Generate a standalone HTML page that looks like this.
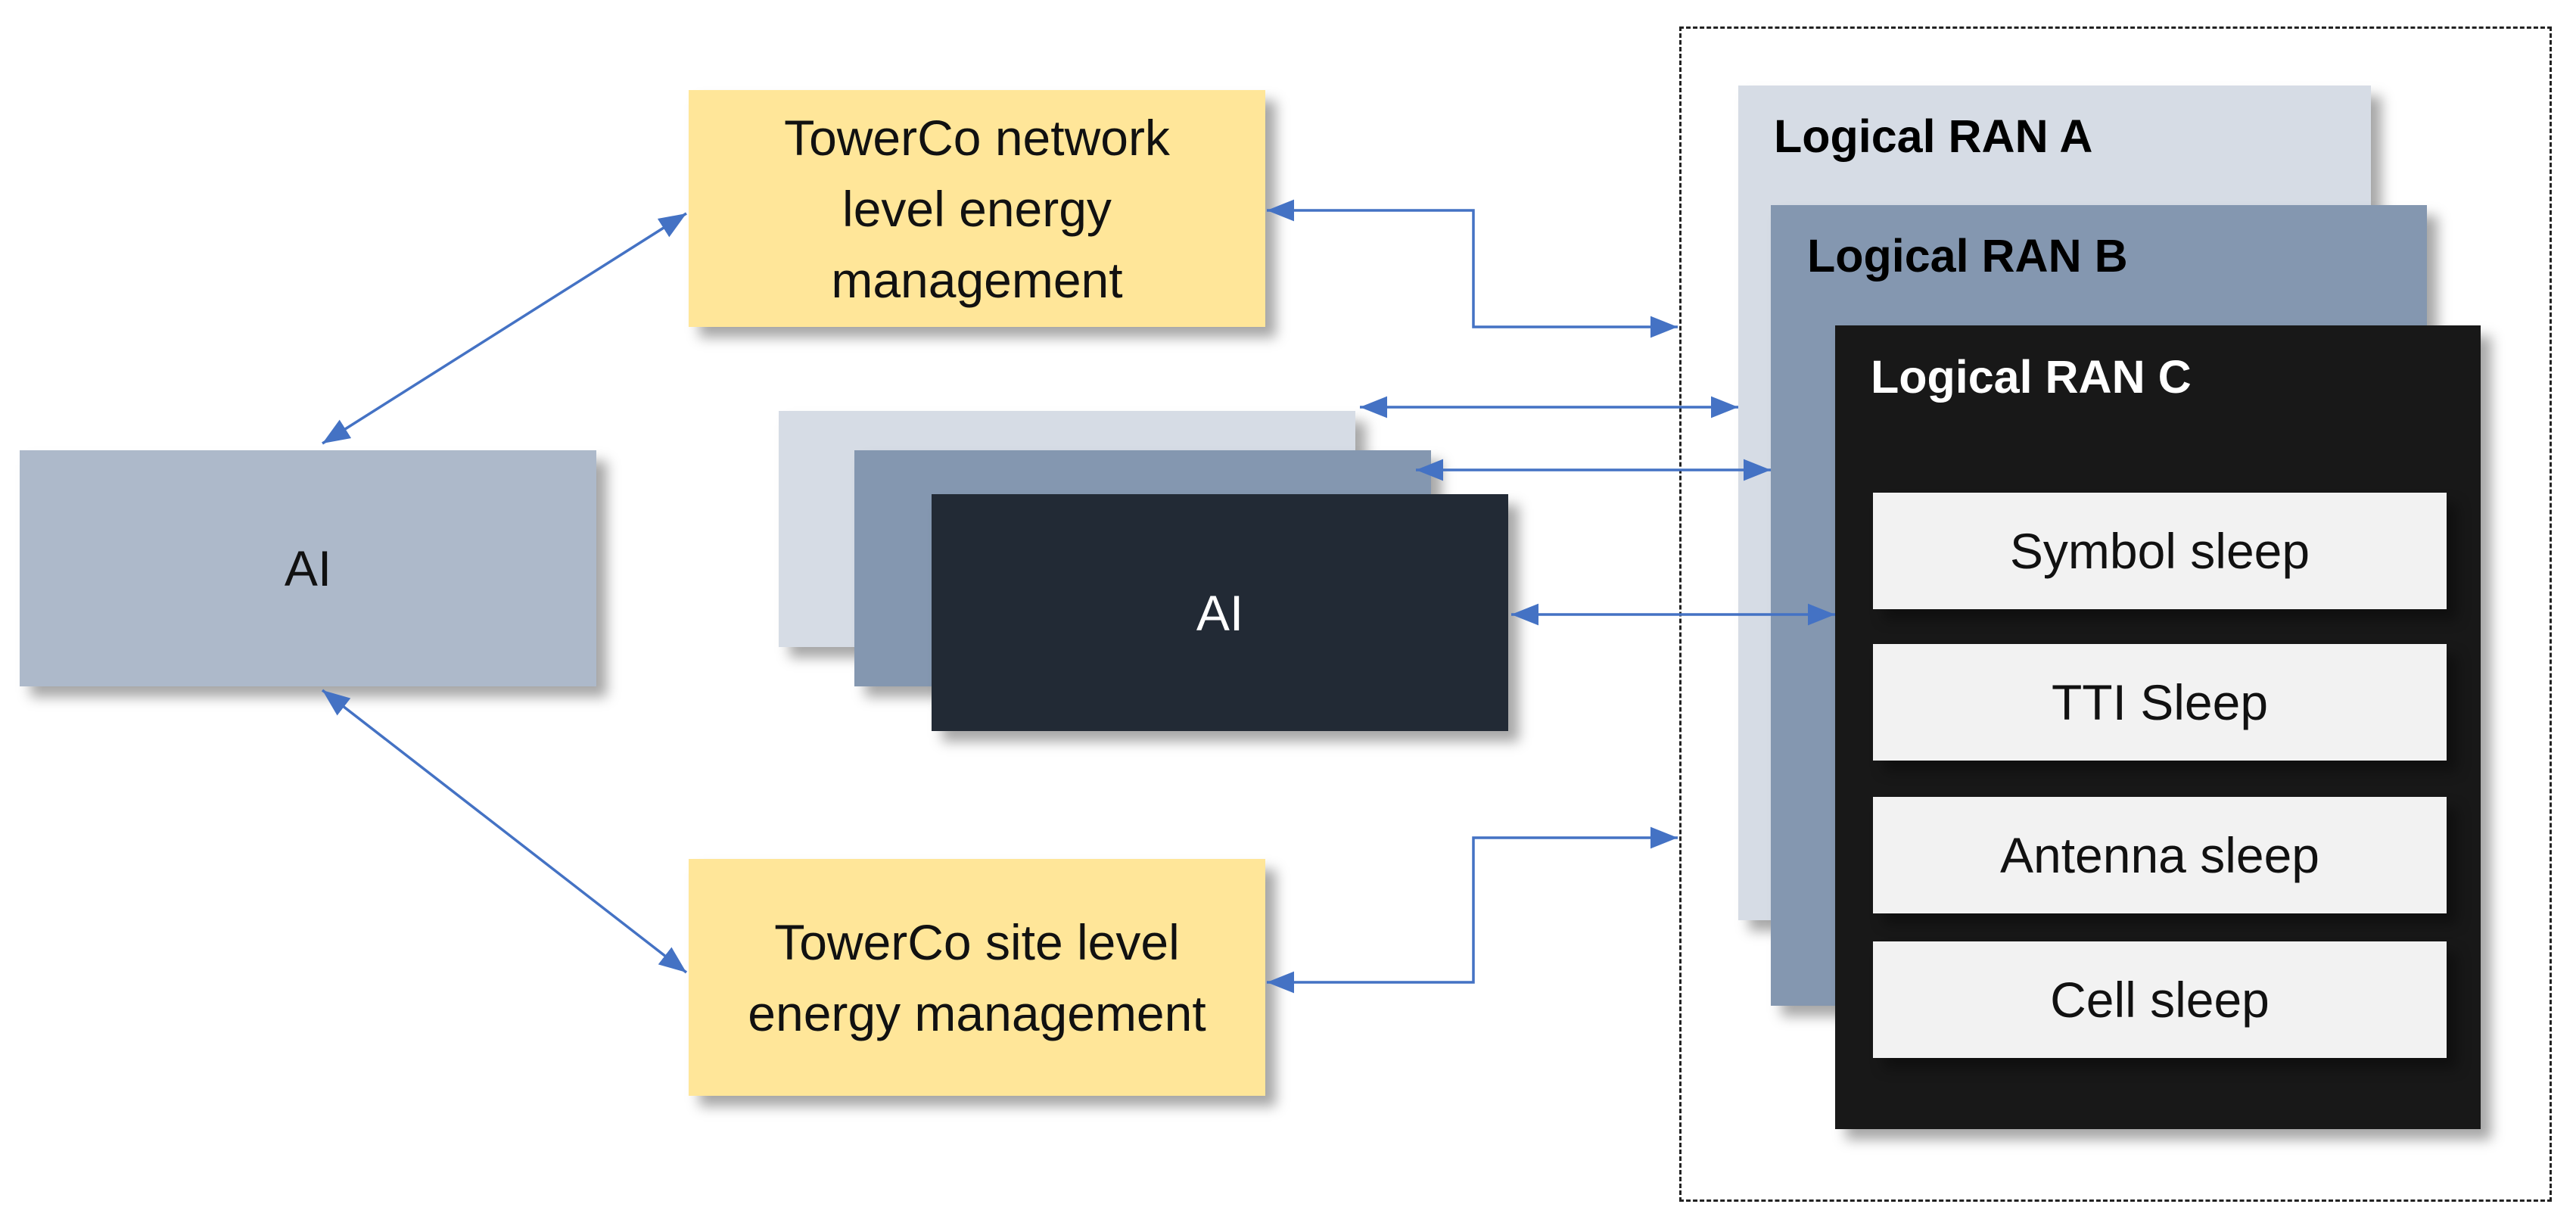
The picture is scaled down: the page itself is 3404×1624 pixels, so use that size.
<!DOCTYPE html>
<html><head><meta charset="utf-8"><style>
html,body{margin:0;padding:0;background:#fff;}
body{width:3404px;height:1624px;position:relative;overflow:hidden;font-family:"Liberation Sans",sans-serif;}
.b{position:absolute;box-sizing:border-box;display:flex;align-items:center;justify-content:center;text-align:center;box-shadow:14px 14px 16px rgba(0,0,0,0.35);}
.t{font-size:66px;line-height:94px;color:#111;}
.lab{position:absolute;font-weight:bold;font-size:61px;}
</style></head><body>
<div style="position:absolute;left:2219px;top:35px;width:1153px;height:1553px;border:3px dashed #222;box-sizing:border-box;"></div>

<div class="b t" style="left:910px;top:119px;width:762px;height:313px;background:#ffe699;">TowerCo network<br>level energy<br>management</div>
<div class="b t" style="left:910px;top:1135px;width:762px;height:313px;background:#ffe699;">TowerCo site level<br>energy management</div>
<div class="b t" style="left:26px;top:595px;width:762px;height:312px;background:#adb9ca;">AI</div>

<div class="b" style="left:1029px;top:543px;width:762px;height:312px;background:#d6dce5;"></div>
<div class="b" style="left:1129px;top:595px;width:762px;height:312px;background:#8497b0;"></div>
<div class="b t" style="left:1231px;top:653px;width:762px;height:313px;background:#222a35;color:#fff;">AI</div>

<div class="b" style="left:2297px;top:113px;width:836px;height:1103px;background:#d6dce5;"></div>
<div class="lab" style="left:2344px;top:145px;color:#000;">Logical RAN A</div>
<div class="b" style="left:2340px;top:271px;width:867px;height:1058px;background:#8497b0;"></div>
<div class="lab" style="left:2388px;top:303px;color:#000;">Logical RAN B</div>
<div class="b" style="left:2425px;top:430px;width:853px;height:1062px;background:#181818;"></div>
<div class="lab" style="left:2472px;top:463px;color:#fff;">Logical RAN C</div>

<div class="b t" style="left:2475px;top:651px;width:758px;height:154px;background:#f2f2f2;">Symbol sleep</div>
<div class="b t" style="left:2475px;top:851px;width:758px;height:154px;background:#f2f2f2;">TTI Sleep</div>
<div class="b t" style="left:2475px;top:1053px;width:758px;height:154px;background:#f2f2f2;">Antenna sleep</div>
<div class="b t" style="left:2475px;top:1244px;width:758px;height:154px;background:#f2f2f2;">Cell sleep</div>

<svg width="3404" height="1624" style="position:absolute;left:0;top:0;" xmlns="http://www.w3.org/2000/svg">
<defs>
<marker id="m" viewBox="0 0 10 10" refX="10" refY="5" markerWidth="36" markerHeight="36" orient="auto-start-reverse" markerUnits="userSpaceOnUse"><path d="M0,1 L10,5 L0,9 z" fill="#4472c4"/></marker></defs>
<g stroke="#4472c4" stroke-width="3.5" fill="none" marker-start="url(#m)" marker-end="url(#m)">
<line x1="426" y1="586" x2="907" y2="282"/>
<line x1="426" y1="912" x2="907" y2="1285"/>
<polyline points="1674,278 1947,278 1947,432 2217,432"/>
<polyline points="1674,1298 1947,1298 1947,1107 2217,1107"/>
<line x1="1797" y1="538" x2="2297" y2="538"/>
<line x1="1871" y1="621" x2="2340" y2="621"/>
<line x1="1997" y1="812" x2="2425" y2="812"/>
</g></svg>
</body></html>
